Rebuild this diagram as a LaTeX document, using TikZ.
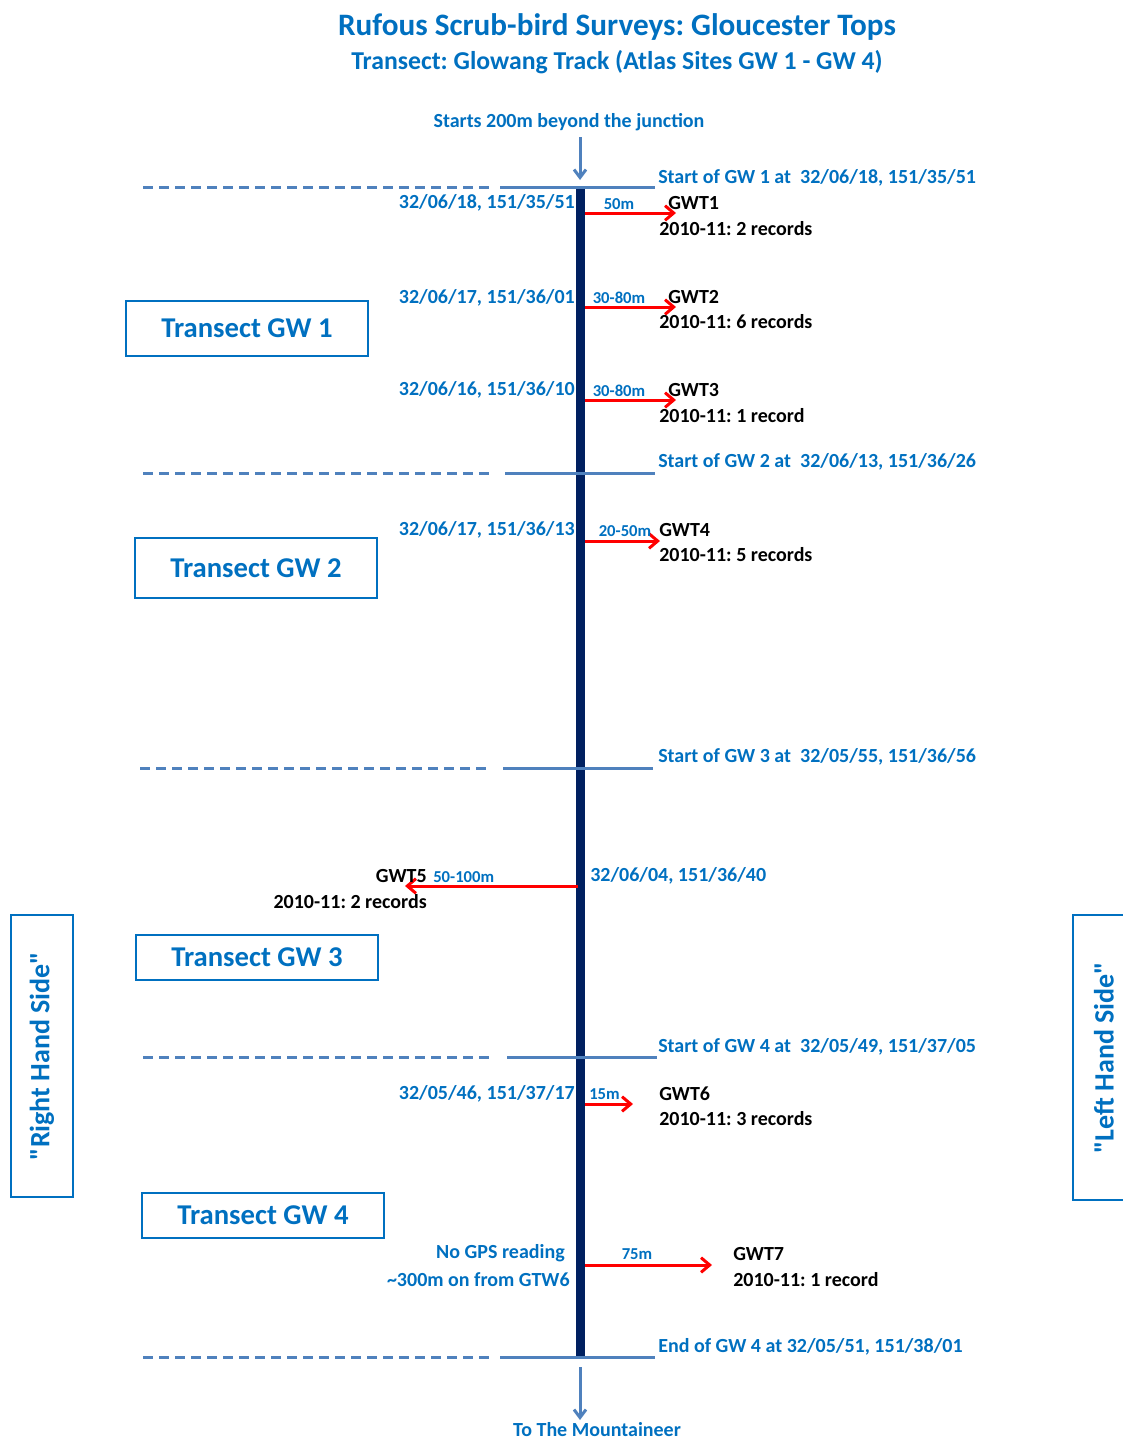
\documentclass[tikz,border=0pt]{standalone}
\usepackage{fontspec}
\setmainfont{Carlito}
\usetikzlibrary{arrows.meta}
\definecolor{txtblue}{HTML}{0070C0}
\definecolor{lineblue}{HTML}{4F81BD}
\definecolor{trackblue}{HTML}{002060}
\frenchspacing

\begin{document}
\begin{tikzpicture}[x=0.75pt, y=-0.75pt,
    every node/.style={inner sep=0pt, font=\bfseries\fontsize{15}{18}\selectfont},
    lbl/.style={yshift=-1.2pt},
    coord/.style={lbl, text=txtblue},
    site/.style={lbl, text=black},
    dist/.style={lbl, text=txtblue, font=\bfseries\fontsize{12.5}{15}\selectfont},
    transect/.style={draw=txtblue, line width=1.5pt, text=txtblue, font=\bfseries\fontsize{21.5}{25}\selectfont, minimum width=181.5pt},
    side/.style={draw=txtblue, line width=1.5pt, text=txtblue, font=\bfseries\fontsize{21}{25}\selectfont, rotate=90},
    section/.style={draw=lineblue, line width=2.25pt},
    sectiondash/.style={draw=lineblue, line width=2.25pt, dash pattern=on 7.5pt off 4.5pt},
    track/.style={draw=trackblue, line width=6.75pt},
    pointer/.style={draw=lineblue, line width=2.25pt, -{Straight Barb[length=6pt, width=9pt]}},
    find/.style={draw=red, line width=2.25pt, -{Straight Barb[length=6.5pt, width=11pt]}}]
    \useasboundingbox (0,0) rectangle (1123,1443);

    % headings
    \node[lbl, text=txtblue, font=\bfseries\fontsize{23.4}{28}\selectfont] (title) at (617,25) {Rufous Scrub-bird Surveys: Gloucester Tops};
    \node[lbl, text=txtblue, font=\bfseries\fontsize{19.3}{23}\selectfont] (subtitle) at (617,61) {Transect: Glowang Track (Atlas Sites GW 1 - GW 4)};

    % the track
    \coordinate (top) at (580,187);
    \coordinate (bottom) at (580,1357);
    \draw[track] (top) -- (bottom);

    \node[coord] (junction) at (569,121) {Starts 200m beyond the junction};
    \node[text=txtblue] (mountaineer) at (597,1430) {To The Mountaineer};
    \coordinate (jtip) at (580,180);
    \coordinate (mtop) at (580,1367);
    \coordinate (mtip) at (580,1420);
    \draw[pointer] (580,137) -- (jtip);
    \draw[pointer] (mtop) -- (mtip);

    % section boundaries
    \draw[sectiondash] (143,187) -- (490,187);
    \draw[section] (500,187) -- (655,187);
    \draw[sectiondash] (143,473) -- (490,473);
    \draw[section] (505,473) -- (655,473);
    \draw[sectiondash] (140,768) -- (487,768);
    \draw[section] (503,768) -- (653,768);
    \draw[sectiondash] (143,1057) -- (490,1057);
    \draw[section] (507,1057) -- (657,1057);
    \draw[sectiondash] (143,1357) -- (490,1357);
    \draw[section] (500,1357) -- (655,1357);

    \node[coord, anchor=west] (start1) at (658,176) {Start of GW 1 at\ \ 32/06/18, 151/35/51};
    \node[coord, anchor=west] (start2) at (658,460) {Start of GW 2 at\ \ 32/06/13, 151/36/26};
    \node[coord, anchor=west] (start3) at (658,755) {Start of GW 3 at\ \ 32/05/55, 151/36/56};
    \node[coord, anchor=west] (start4) at (658,1045) {Start of GW 4 at\ \ 32/05/49, 151/37/05};
    \node[coord, anchor=west] (end4) at (658,1345) {End of GW 4 at 32/05/51, 151/38/01};

    % transect boxes
    \node[transect, minimum height=41.25pt] (gw1) at (247,328.5) {Transect GW 1};
    \node[transect, minimum height=45pt] (gw2) at (256,568) {Transect GW 2};
    \node[transect, minimum height=33.75pt] (gw3) at (257,957.5) {Transect GW 3};
    \node[transect, minimum height=33.75pt] (gw4) at (263,1215.5) {Transect GW 4};

    \node[side, minimum width=211.5pt, minimum height=46.5pt] (rhs) at (42,1056) {\textquotedbl Right Hand Side\textquotedbl};
    \node[side, minimum width=213.75pt, minimum height=46.5pt] (lhs) at (1104,1057.5) {\textquotedbl Left Hand Side\textquotedbl};

    % GWT1
    \node[coord, anchor=east] (pos1) at (575,201) {32/06/18, 151/35/51};
    \coordinate (t1) at (585,213);
    \coordinate (h1) at (676,213);
    \draw[find] (t1) -- (h1);
    \node[dist] (d1) at (619,202) {50m};
    \node[site, anchor=west] (gwt1) at (668,201) {GWT1};
    \node[site, anchor=west] (rec1) at (659,227) {2010-11: 2 records};

    % GWT2
    \node[coord, anchor=east] (pos2) at (575,296) {32/06/17, 151/36/01};
    \coordinate (t2) at (585,307);
    \coordinate (h2) at (676,307);
    \draw[find] (t2) -- (h2);
    \node[dist] (d2) at (619,296) {30-80m};
    \node[site, anchor=west] (gwt2) at (668,295) {GWT2};
    \node[site, anchor=west] (rec2) at (659,320) {2010-11: 6 records};

    % GWT3
    \node[coord, anchor=east] (pos3) at (575,388) {32/06/16, 151/36/10};
    \coordinate (t3) at (585,400);
    \coordinate (h3) at (676,400);
    \draw[find] (t3) -- (h3);
    \node[dist] (d3) at (619,389) {30-80m};
    \node[site, anchor=west] (gwt3) at (668,388) {GWT3};
    \node[site, anchor=west] (rec3) at (659,414) {2010-11: 1 record};

    % GWT4
    \node[coord, anchor=east] (pos4) at (575,528) {32/06/17, 151/36/13};
    \coordinate (t4) at (585,541);
    \coordinate (h4) at (660,541);
    \draw[find] (t4) -- (h4);
    \node[dist] (d4) at (625,529) {20-50m};
    \node[site, anchor=west] (gwt4) at (659,528) {GWT4};
    \node[site, anchor=west] (rec4) at (659,553) {2010-11: 5 records};

    % GWT5
    \node[coord, anchor=west] (pos5) at (590,874) {32/06/04, 151/36/40};
    \coordinate (t5) at (578,886);
    \coordinate (h5) at (405,886);
    \draw[find] (t5) -- (h5);
    \node[dist, anchor=west] (d5) at (433,875) {50-100m};
    \node[site, anchor=east] (gwt5) at (427,874) {GWT5};
    \node[site, anchor=east] (rec5) at (427,900) {2010-11: 2 records};

    % GWT6
    \node[coord, anchor=east] (pos6) at (575,1092) {32/05/46, 151/37/17};
    \coordinate (t6) at (585,1104);
    \coordinate (h6) at (633,1104);
    \draw[find] (t6) -- (h6);
    \node[dist, anchor=west] (d6) at (589,1093) {15m};
    \node[site, anchor=west] (gwt6) at (659,1092) {GWT6};
    \node[site, anchor=west] (rec6) at (659,1117) {2010-11: 3 records};

    % GWT7
    \node[coord, anchor=east] (nogps) at (565,1252) {No GPS reading};
    \node[coord, anchor=east] (onfrom) at (570,1278) {\textasciitilde300m on from GTW6};
    \coordinate (t7) at (585,1265);
    \coordinate (h7) at (712,1265);
    \draw[find] (t7) -- (h7);
    \node[dist] (d7) at (637,1253) {75m};
    \node[site, anchor=west] (gwt7) at (733,1252) {GWT7};
    \node[site, anchor=west] (rec7) at (733,1278) {2010-11: 1 record};
\end{tikzpicture}
\end{document}
